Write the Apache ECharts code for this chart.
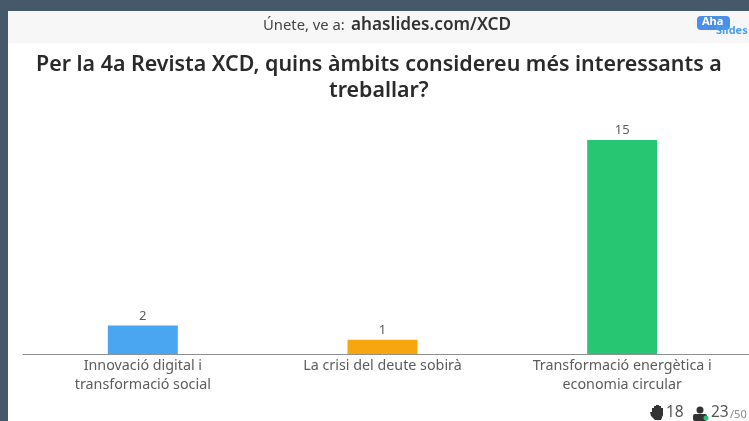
<!DOCTYPE html>
<html><head><meta charset="utf-8">
<style>html,body{margin:0;padding:0;background:#46596b}#c{width:749px;height:421px}</style>
<script src="https://cdn.jsdelivr.net/npm/echarts@6/dist/echarts.min.js"></script>
</head><body><div id="c"></div>
<script>
const categories = ['Innovació digital i\ntransformació social', 'La crisi del deute sobirà', 'Transformació energètica i\neconomia circular'];
const values = [2, 1, 15];
const barColors = ['#4ba6f2', '#f6a70f', '#27c672'];
const titleLines = ['Per la 4a Revista XCD, quins àmbits considereu més interessants a', 'treballar?'];
const chart = echarts.init(document.getElementById('c'), null, {renderer: 'canvas'});
const font = '"Noto Sans", sans-serif';
const titleStyle = {fontFamily: font, fontSize: 21.4, fontWeight: 600, color: '#2a2a2a', lineHeight: 26};
chart.setOption({
  animation: false,
  backgroundColor: '#46596b',
  graphic: [
    {type: 'rect', z: -10, shape: {x: 8, y: 11, width: 741, height: 410}, style: {fill: '#ffffff'}},
    {type: 'rect', z: -9, shape: {x: 8, y: 11, width: 741, height: 32}, style: {fill: '#f7f7f7'}},
    {type: 'line', z: 1, shape: {x1: 742, y1: 354.5, x2: 749, y2: 354.5}, style: {stroke: '#8f8f8f', lineWidth: 1}},
    {type: 'text', z: 5, x: 263, y: 18, style: {text: 'Únete, ve a:', font: '14.8px ' + font, fill: '#444'}},
    {type: 'text', z: 5, x: 351, y: 17, style: {text: 'ahaslides.com/XCD', font: '600 17.2px ' + font, fill: '#333'}},
    {type: 'rect', z: 5, shape: {x: 697, y: 16, width: 33, height: 14, r: 4}, style: {fill: '#4b8fe8'}},
    {type: 'text', z: 6, x: 702, y: 16, style: {text: 'Aha', font: 'bold 11px ' + font, fill: '#fff'}},
    {type: 'text', z: 6, x: 716, y: 25, style: {text: 'Slides', font: 'bold 11px ' + font, fill: '#4b9fe8'}},
    {type: 'polygon', z: 5, shape: {points: [[652,412],[652,408],[654,408],[654,406],[656,406],[656,405],[659,405],[659,406],[661,406],[661,408],[663,408],[663,415],[661,420],[655,420],[651,416],[650,412]]}, style: {fill: '#333'}},
    {type: 'text', z: 5, x: 666, y: 405, style: {text: '18', font: '15.5px ' + font, fill: '#555'}},
    {type: 'circle', z: 5, shape: {cx: 700, cy: 410, r: 3.5}, style: {fill: '#333'}},
    {type: 'rect', z: 5, shape: {x: 693, y: 414, width: 14, height: 7, r: 2}, style: {fill: '#333'}},
    {type: 'circle', z: 6, shape: {cx: 706, cy: 418, r: 2.5}, style: {fill: '#27c672'}},
    {type: 'text', z: 5, x: 711, y: 405, style: {text: '23', font: '15.5px ' + font, fill: '#555'}},
    {type: 'text', z: 5, x: 730, y: 409, style: {text: '/50', font: '11px ' + font, fill: '#888'}}
  ],
  title: [
    {text: titleLines[0], left: 31, top: 47, textStyle: titleStyle},
    {text: titleLines[1], left: 324, top: 73, textStyle: titleStyle}
  ],
  grid: {left: 23, right: 7, top: 140, bottom: 67},
  xAxis: {
    type: 'category', data: categories,
    axisTick: {show: false},
    axisLine: {lineStyle: {color: '#8f8f8f', width: 1}},
    axisLabel: {interval: 0, margin: 2, fontFamily: font, fontSize: 14.3, lineHeight: 19, color: '#5c5c5c'}
  },
  yAxis: {type: 'value', min: 0, max: 15, show: false, splitLine: {show: false}},
  series: [{
    type: 'bar', barWidth: 70,
    data: values.map((v, i) => ({value: v, itemStyle: {color: barColors[i]}})),
    label: {show: true, position: 'top', distance: 3, fontFamily: font, fontSize: 13, color: '#5c5c5c'}
  }]
});
</script></body></html>
